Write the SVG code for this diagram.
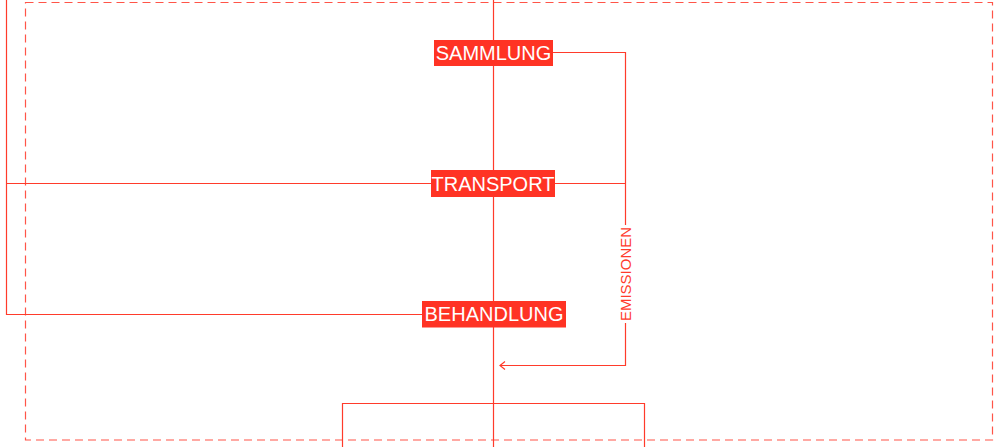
<svg xmlns="http://www.w3.org/2000/svg" width="997" height="447" viewBox="0 0 997 447">
<defs>
<style>
.ln{fill:none;stroke:#ff3b2b;stroke-width:1.2}
.box{fill:#ff3324}
.lbl{font-family:"Liberation Sans",Arial,sans-serif;font-size:20px;fill:#ffffff;text-anchor:middle;dominant-baseline:central}
.em{font-family:"Liberation Sans",Arial,sans-serif;font-size:15px;fill:#ff3b2b;text-anchor:middle;dominant-baseline:central}
</style>
<marker id="arr" viewBox="0 0 10 10" refX="9" refY="5" markerWidth="10" markerHeight="10" markerUnits="userSpaceOnUse" orient="auto">
<path d="M4,1 L9,5 L4,9" fill="none" stroke="#ff3b2b" stroke-width="1.2"/>
</marker>
</defs>
<rect width="997" height="447" fill="#ffffff"/>
<g id="frame">
<rect x="25.5" y="2.5" width="967" height="437.5" fill="none" stroke="#ff5548" stroke-width="1.2" stroke-dasharray="8,5"/>
</g>
<g id="connectors">
<line class="ln" x1="493.5" y1="0" x2="493.5" y2="447"/>
<polyline class="ln" points="553,52.5 625.5,52.5 625.5,225"/>
<polyline class="ln" points="625.5,323 625.5,365.5 500,365.5" marker-end="url(#arr)"/>
<line class="ln" x1="6" y1="183.5" x2="625.5" y2="183.5"/>
<polyline class="ln" points="6.5,0 6.5,314.5 422,314.5"/>
<polyline class="ln" points="342.5,447 342.5,403.5 644.5,403.5 644.5,447"/>
<text class="em" transform="translate(625.5,274) rotate(-90)">EMISSIONEN</text>
</g>
<g id="sammlung">
<rect class="box" x="434" y="40" width="119" height="26"/>
<text class="lbl" x="493.5" y="53">SAMMLUNG</text>
</g>
<g id="transport">
<rect class="box" x="431" y="170" width="124" height="27"/>
<text class="lbl" x="493" y="183.5">TRANSPORT</text>
</g>
<g id="behandlung">
<rect class="box" x="422" y="301" width="144" height="26.5"/>
<text class="lbl" x="494" y="314">BEHANDLUNG</text>
</g>
</svg>
